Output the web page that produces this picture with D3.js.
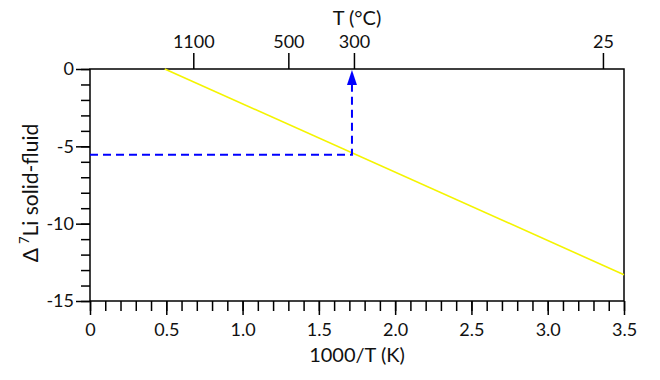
<!DOCTYPE html>
<html><head><meta charset="utf-8">
<script src="https://cdn.jsdelivr.net/npm/d3@7"></script>
<style>body{margin:0;background:#fff}svg{display:block}text{font-family:"Lato","DejaVu Sans",sans-serif;fill:#111}</style>
</head><body>
<svg id="c" width="660" height="380"></svg>
<script>
// data
const lineX = [0.49, 3.5];
const lineY = [0, -13.3];
const markX = 1.717;
const markY = -5.55;
const bottomTicks = [0, 0.5, 1.0, 1.5, 2.0, 2.5, 3.0, 3.5];
const bottomTickLabels = ["0", "0.5", "1.0", "1.5", "2.0", "2.5", "3.0", "3.5"];
const leftTicks = [0, -5, -10, -15];
const topTempLabels = ["1100", "500", "300", "25"];
const topTempPos = [0.677, 1.30, 1.73, 3.362];

const svg = d3.select("#c");
const m = {l: 90, r: 624, t: 69, b: 301};
const x = d3.scaleLinear().domain([0, 3.5]).range([m.l, m.r]);
const y = d3.scaleLinear().domain([-15, 0]).range([m.b, m.t]);
const none = () => "";

// frame
svg.append("rect").attr("x", m.l).attr("y", m.t).attr("width", m.r - m.l).attr("height", m.b - m.t)
  .attr("fill", "none").attr("stroke", "#000").attr("stroke-width", 1.5);

// bottom axis: minor + major
const minorX = d3.range(0, 3.501, 0.1);
const gb = svg.append("g").attr("transform", `translate(0,${m.b})`);
gb.append("g").call(d3.axisBottom(x).tickValues(minorX).tickSize(10).tickFormat(none));
gb.append("g").call(d3.axisBottom(x).tickValues(bottomTicks).tickSize(14).tickPadding(5)
  .tickFormat((d, i) => bottomTickLabels[i]));
gb.selectAll(".domain").remove();
gb.selectAll("line").attr("stroke", "#000").attr("stroke-width", 1.5);
gb.selectAll("text").attr("font-size", 18).attr("dy", "0.9em").attr("fill", "#111");

// left axis
const minorY = d3.range(-15, 0.01, 1);
const gl = svg.append("g").attr("transform", `translate(${m.l},0)`);
gl.append("g").call(d3.axisLeft(y).tickValues(minorY).tickSize(9).tickFormat(none));
gl.append("g").call(d3.axisLeft(y).tickValues(leftTicks).tickSize(14).tickPadding(2)
  .tickFormat(d => String(d)));
gl.selectAll(".domain").remove();
gl.selectAll("line").attr("stroke", "#000").attr("stroke-width", 1.5);
gl.selectAll("text").attr("font-size", 18).attr("fill", "#111");

// top axis
const gt = svg.append("g").attr("transform", `translate(0,${m.t})`);
gt.call(d3.axisTop(x).tickValues(topTempPos).tickSize(16).tickPadding(5)
  .tickFormat((d, i) => topTempLabels[i]));
gt.selectAll(".domain").remove();
gt.selectAll("line").attr("stroke", "#000").attr("stroke-width", 1.5);
gt.selectAll("text").attr("font-size", 18).attr("fill", "#111");

// yellow line
svg.append("path").datum(lineX.map((d, i) => [d, lineY[i]]))
  .attr("d", d3.line().x(d => x(d[0])).y(d => y(d[1])))
  .attr("stroke", "#f4f400").attr("stroke-width", 1.6).attr("fill", "none");

// blue dashed guides
svg.append("path").datum([[0, markY], [markX, markY], [markX, -1.0]])
  .attr("d", d3.line().x(d => x(d[0])).y(d => y(d[1])))
  .attr("stroke", "#0000ff").attr("stroke-width", 2).attr("stroke-dasharray", "8,5").attr("fill", "none");
// arrow head
const ax = x(markX), ay = y(0) + 1;
svg.append("path").attr("d", `M${ax},${ay} L${ax - 5},${ay + 15} L${ax + 5},${ay + 15} Z`).attr("fill", "#0000ff");

// titles
svg.append("text").attr("x", 357).attr("y", 25).attr("text-anchor", "middle").attr("font-size", 20).text("T (°C)");
svg.append("text").attr("x", 357).attr("y", 362).attr("text-anchor", "middle").attr("font-size", 20).text("1000/T (K)");
const yl = svg.append("text").attr("transform", "translate(38,193) rotate(-90)").attr("text-anchor", "middle").attr("font-size", 21);
yl.append("tspan").text("Δ");
yl.append("tspan").attr("font-size", 13).attr("dy", -9).attr("dx", 4).text("7");
yl.append("tspan").attr("dy", 9).text("Li solid-fluid");
</script>
</body></html>
